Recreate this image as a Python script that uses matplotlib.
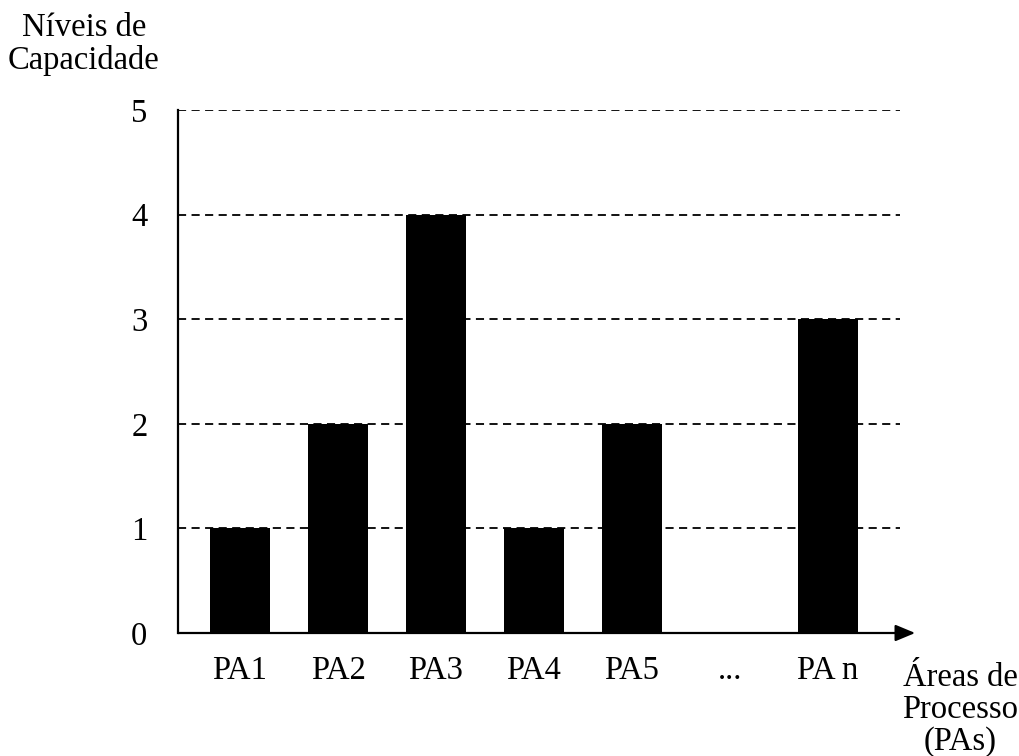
import matplotlib
matplotlib.use("Agg")
import matplotlib.pyplot as plt

# chart data
categories = ["PA1", "PA2", "PA3", "PA4", "PA5", "...", "PA n"]
levels = [1, 2, 4, 1, 2, 0, 3]
level_ticks = [0, 1, 2, 3, 4, 5]

plt.rcParams['font.family'] = ['Liberation Serif', 'DejaVu Serif']
FS = 23.5

fig = plt.figure(figsize=(10.2, 7.56), dpi=100)
ax = fig.add_axes([178 / 1020, 123 / 756, 722 / 1020, 523 / 756])

x = list(range(len(categories)))
ax.bar(x, levels, width=0.61, color="black", linewidth=0, zorder=1)

# dashed level lines
for lv in level_ticks[1:]:
    ax.axhline(lv, color="black", linestyle=(0, (4.5, 3)), linewidth=1.3, zorder=2)

ax.set_xlim(-0.633, 6.735)
ax.set_ylim(0, 5)
ax.set_xticks(x)
ax.set_xticklabels(categories)
ax.set_yticks(level_ticks)
ax.set_yticklabels([str(v) for v in level_ticks])
ax.tick_params(axis="y", length=0, pad=22, labelsize=FS)
ax.tick_params(axis="x", length=0, pad=16, labelsize=FS)

for s in ["top", "right", "bottom"]:
    ax.spines[s].set_visible(False)
ax.spines["left"].set_linewidth(1.6)

# x axis with arrow
ax.annotate("", xy=(1.021, 0), xytext=(0, 0), xycoords="axes fraction",
            textcoords="axes fraction",
            arrowprops=dict(arrowstyle="-|>,head_length=1.2,head_width=0.5",
                            color="black", lw=1.6, shrinkA=0, shrinkB=0),
            annotation_clip=False)

fig.text(84 / 1020, 1 - 12 / 756, "Níveis de\nCapacidade", ha="center", va="top",
         fontsize=FS, linespacing=1.1)
fig.text(960 / 1020, 1 - 663 / 756, "Áreas de\nProcesso\n(PAs)", ha="center", va="top",
         fontsize=FS, linespacing=1.05)

fig.savefig("out.png", dpi=100)
